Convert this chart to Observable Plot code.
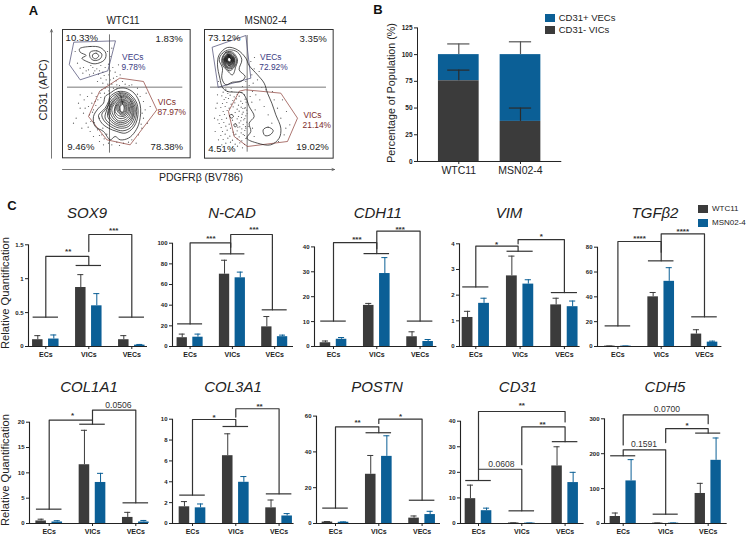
<!DOCTYPE html>
<html><head><meta charset="utf-8">
<script src="https://cdn.jsdelivr.net/npm/d3@7"></script>
<script src="https://cdn.jsdelivr.net/npm/@observablehq/plot@0.6"></script>
<style>
html,body{margin:0;padding:0;background:#fff}
#c{position:relative;width:747px;height:538px;overflow:hidden;font-family:"Liberation Sans",Arial,sans-serif;color:#222}
#c svg{position:absolute;max-width:none;overflow:visible}
.t{position:absolute;white-space:nowrap;transform:translate(-50%,-50%);line-height:1}
</style></head><body><div id="c"></div>
<script>
// ---------- data ----------
const GROUPS=["ECs","VICs","VECs"];
const LINES=["WTC11","MSN02-4"];
const DARK="#3b3b3b",BLUE="#0b5f96";

const SOX9_WT=[0.10,0.87,0.10],SOX9_WT_UP=[0.16,1.06,0.16],SOX9_MS=[0.11,0.60,0.02],SOX9_MS_UP=[0.17,0.78,0.03];
const SOX9_CAPS=[[0,0.433],[1,1.195],[2,0.433]];
const SOX9_BR=[[0,0.433,1.328,1,1.195],[1,1.40,1.652,2,0.433]];
const SOX9_LB=[["**",0.52,1.436],["***",1.58,1.736]];

const NCAD_WT=[8.5,70,19],NCAD_WT_UP=[12,83.5,29],NCAD_MS=[9,66.5,9.5],NCAD_MS_UP=[12,72,11];
const NCAD_CAPS=[[0,21.9],[1,89.7],[2,35.5]];
const NCAD_BR=[[0,21.9,100.3,0.96,89.7],[0.96,96,108.4,1.945,35.5]];
const NCAD_LB=[["***",0.49,107],["***",1.51,115.5]];

const CDH11_WT=[1.5,16.5,3.9],CDH11_WT_UP=[2.2,17.3,5.9],CDH11_MS=[2.9,29.3,2],CDH11_MS_UP=[3.6,35.7,2.8];
const CDH11_CAPS=[[0,10.2],[1,37.3],[2,10.2]];
const CDH11_BR=[[0,10.2,41.7,1,37.3],[1,39.3,46.3,2,10.2]];
const CDH11_LB=[["***",0.54,44],["***",1.54,48]];

const VIM_WT=[1.13,2.75,1.62],VIM_WT_UP=[1.37,3.52,1.88],VIM_MS=[1.68,2.43,1.55],VIM_MS_UP=[1.88,2.6,1.77];
const VIM_CAPS=[[0,2.32],[1,3.71],[2,2.10]];
const VIM_BR=[[0,2.32,3.91,0.955,3.71],[0.955,4,4.16,2,2.10]];
const VIM_LB=[["*",0.47,4.06],["*",1.48,4.38]];

const TGFB2_WT=[0.3,40,10],TGFB2_WT_UP=[0.4,43.5,13.5],TGFB2_MS=[0.3,52.5,3.5],TGFB2_MS_UP=[0.4,63.5,4.3];
const TGFB2_CAPS=[[0,16.6],[1,69],[2,23.9]];
const TGFB2_BR=[[0,16.6,84.6,1,69],[1,76,90.8,2,23.9]];
const TGFB2_LB=[["****",0.5,88.9],["****",1.5,94.5]];

const COL1A1_WT=[0.5,11.6,1.2],COL1A1_WT_UP=[0.85,18.4,2.2],COL1A1_MS=[0.3,8.1,0.3],COL1A1_MS_UP=[0.55,9.9,0.6];
const COL1A1_CAPS=[[0,2.83],[1,19.6],[2,4.08]];
const COL1A1_BR=[[0,2.83,20.4,1,19.6],[1,20.4,22.4,2,4.08]];
const COL1A1_LB=[["*",0.54,21.8],["0.0506",1.6,23.4]];

const COL3A1_WT=[1.6,6.5,1.5],COL3A1_WT_UP=[2.1,8.6,2.25],COL3A1_MS=[1.5,3.95,0.72],COL3A1_MS_UP=[1.87,4.5,0.95];
const COL3A1_CAPS=[[0,2.72],[1,9.3],[2,2.84]];
const COL3A1_BR=[[0,2.72,9.97,1,9.3],[1,10.2,11.0,2,2.84]];
const COL3A1_LB=[["*",0.5,10.4],["**",1.55,11.4]];

const POSTN_WT=[0.8,27.5,3],POSTN_WT_UP=[1.1,38,4.2],POSTN_MS=[0.7,37.5,5],POSTN_MS_UP=[0.9,49,6.8];
const POSTN_CAPS=[[0,8.6],[1,50.7],[2,13]];
const POSTN_BR=[[0,8.6,54,1,50.7],[1,55.9,58.3,2,13]];
const POSTN_LB=[["**",0.51,57.4],["*",1.5,61]];

const CD31_WT=[9.7,0.2,22.5],CD31_WT_UP=[15,0.25,30],CD31_MS=[5,0.15,16],CD31_MS_UP=[6,0.2,20];
const CD31_CAPS=[[0,16.8],[1,4.95],[2,32]];
const CD31_BR=[[0,16.8,21.2,1,4.95],[0,21.2,43.8,2,39.7],[1,23,37.8,2,32]];
const CD31_LB=[["**",1.0,46.8],["**",1.48,39.5],["0.0608",0.53,23.3]];

const CDH5_WT=[20,1,86],CDH5_WT_UP=[30,1.5,115],CDH5_MS=[122,1,181],CDH5_MS_UP=[183,1.5,245];
const CDH5_CAPS=[[0,194],[1,26.7],[2,259]];
const CDH5_BR=[[0,194,211,1,26.7],[0,225,311,2,286],[1,232,272,2,259]];
const CDH5_LB=[["0.0700",1.03,327],["*",1.5,287],["0.1591",0.49,227]];

// panel B
const B_VICS=[75.5,37.5],B_VICS_UP=[85.5,50],B_TOTAL=[100,100],B_TOTAL_UP=[110,112];

// panel A (arbitrary fluorescence units, y grows downward)
const WT_VEC_GATE=[[42,42],[166,38],[143,128],[60,155],[28,110]];
const WT_VIC_GATE=[[180,150],[250,160],[290,245],[210,350],[140,335],[85,265],[118,190]];
const WT_CONTOURS=[
[[150,195],[170,182],[195,180],[222,195],[240,230],[238,280],[225,310],[205,330],[180,335],[165,325],[150,335],[130,310],[105,295],[100,265],[115,240],[130,225],[135,205]],
[[150,205],[175,190],[205,195],[230,225],[232,270],[218,300],[195,315],[170,310],[145,300],[125,285],[115,262],[135,240],[145,220]],
[[152,210],[178,194],[205,200],[227,230],[227,270],[212,298],[188,308],[160,300],[132,278],[125,258],[140,240]],
[[155,215],[180,197],[205,205],[224,235],[222,270],[205,295],[180,300],[155,290],[135,270],[140,245]],
[[158,218],[181,201],[205,209],[221,238],[218,268],[202,290],[178,294],[155,282],[142,262]],
[[160,220],[182,205],[205,212],[218,240],[215,268],[198,285],[175,288],[155,275],[145,255]],
[[162,223],[183,208],[203,216],[215,240],[212,265],[197,280],[175,283],[157,268],[150,248]],
[[165,225],[183,212],[202,220],[212,240],[208,262],[195,275],[175,278],[160,262],[155,243]],
[[168,228],[184,215],[200,222],[208,240],[204,260],[191,270],[175,270],[163,256]],
[[170,230],[185,218],[198,225],[205,240],[200,258],[188,265],[175,262],[165,250]],
[[172,231],[186,220],[197,228],[201,242],[196,257],[185,261],[175,254],[170,245]],
[[175,232],[187,222],[196,232],[198,245],[192,256],[182,256],[174,245]],
[[178,234],[187,225],[194,236],[193,250],[185,254],[178,246]],
[[180,235],[188,228],[192,240],[188,252],[182,250]],
[[58,62],[90,55],[120,58],[137,75],[133,95],[105,107],[80,100],[65,90],[78,82],[60,72]],
[[90,72],[110,68],[125,78],[120,92],[102,97],[90,88]],
[[97,80],[108,75],[116,83],[106,92],[98,88]]
];
const WT_DOTS=[[45,70],[52,105],[60,120],[70,118],[85,125],[98,118],[110,122],[122,112],[135,118],[145,108],[150,85],[155,60],[142,70],[150,128],[128,132],[115,138],[100,135],[88,140],[78,128],[68,135],[92,112],[104,128],[118,128],[132,142],[146,140],[158,118],[165,132],[175,110],[170,145],[160,150],[150,155],[138,155],[122,150],[112,160],[128,165],[143,168],[155,168],[168,158],[180,140],[60,200],[72,215],[82,205],[95,195],[108,205],[120,195],[60,240],[70,255],[48,270],[85,235],[95,225],[105,220],[78,285],[65,300],[90,310],[100,325],[118,340],[125,320],[112,305],[92,280],[75,240],[55,225],[40,285],[88,260],[100,245],[130,350],[145,345],[155,350],[170,342],[190,345],[205,342],[215,335],[235,320],[245,300],[250,270],[255,245],[250,220],[240,205],[232,180],[215,170],[195,168],[178,172],[160,180],[135,180],[125,185],[258,195],[270,235],[262,285],[228,345],[178,352],[118,270],[128,300],[140,318],[113,215],[122,208],[97,252],[107,232],[84,297],[102,283],[118,322],[132,332],[148,327],[246,255],[243,288],[232,198],[207,172],[187,160],[170,170],[146,188],[133,195]];
const MS_VEC_GATE=[[30,57],[130,22],[145,150],[48,177]];
const MS_VIC_GATE=[[130,185],[235,195],[285,270],[255,340],[135,355],[95,325],[78,250],[110,190]];
const MS_CONTOURS=[
[[60,178],[75,190],[100,192],[120,195],[133,215],[140,235],[155,265],[140,285],[145,310],[133,330],[165,345],[205,350],[230,330],[235,300],[220,260],[208,225],[195,195],[185,165],[165,140],[140,112],[130,90],[105,65],[75,58],[50,80],[45,110],[52,150]],
[[50,95],[60,75],[80,65],[105,72],[118,95],[110,125],[128,145],[115,160],[90,162],[70,170],[58,150],[60,120]],
[[58,92],[70,72],[90,72],[105,95],[100,115],[90,140],[72,125],[60,110]],
[[60,92],[72,74],[90,76],[102,96],[96,116],[80,128],[64,110]],
[[63,92],[75,77],[90,80],[98,97],[92,118],[78,122],[65,108]],
[[65,92],[76,79],[90,83],[96,97],[90,116],[77,119],[67,107]],
[[66,92],[77,80],[90,85],[95,98],[88,114],[76,116],[68,105]],
[[67,92],[78,81],[90,87],[93,99],[85,113],[74,110],[69,104]],
[[68,92],[78,82],[90,88],[92,100],[82,112],[72,105]],
[[69,92],[79,83],[89,89],[91,100],[82,110],[73,104]],
[[70,92],[79,84],[89,90],[90,100],[82,108],[74,103]],
[[71,92],[80,85],[88,92],[88,100],[81,106],[75,102]],
[[72,92],[80,85],[88,95],[84,105],[75,102]],
[[73,92],[81,86],[87,95],[84,103],[75,101]],
[[74,92],[81,87],[87,95],[83,102],[76,100]],
[[75,92],[81,88],[86,95],[82,101],[77,99]],
[[182,305],[197,297],[212,307],[203,320],[187,322]],
[[81,262],[88,259],[93,265],[86,270]],
[[94,289],[100,287],[103,293],[97,296]]
];
const MS_DOTS=[[62,192],[76,196],[88,190],[104,199],[118,193],[58,203],[70,208],[83,201],[95,206],[110,204],[126,200],[65,214],[78,211],[91,217],[102,212],[115,219],[128,213],[60,226],[73,223],[86,228],[97,224],[108,231],[120,226],[131,222],[55,238],[68,235],[80,240],[92,236],[104,243],[116,237],[127,241],[62,250],[74,247],[98,253],[110,249],[122,252],[133,246],[52,262],[66,259],[108,265],[119,258],[130,263],[58,274],[72,270],[90,276],[104,272],[115,278],[127,271],[50,286],[64,283],[80,288],[110,284],[122,289],[133,282],[56,298],[70,294],[84,300],[106,297],[118,302],[129,295],[60,310],[74,306],[92,312],[104,308],[116,314],[127,307],[55,322],[68,318],[82,324],[95,320],[110,326],[122,319],[62,334],[76,330],[90,336],[104,332],[118,338],[130,331],[70,345],[84,342],[98,348],[112,344],[126,349],[90,357],[105,354],[120,359],[45,200],[40,240],[46,275],[38,310],[48,335],[58,350],[44,225],[36,270],[128,238],[124,275],[130,300],[126,322],[134,256],[137,295],[121,241],[117,268],[112,296],[100,318],[160,200],[172,215],[185,235],[197,260],[208,285],[225,240],[240,215],[252,250],[262,290],[245,320],[228,340],[215,215],[235,270],[250,300],[170,130],[155,122],[148,140],[165,155],[178,178],[152,165],[140,172],[130,160],[145,100],[156,88],[190,185],[210,190],[120,175],[70,183],[86,180],[48,160],[150,190],[143,205],[148,222],[158,245],[150,300],[155,325]];
const WT_TEXT=[["10.33%",65,30,"k"],["1.83%",327,33,"k"],["9.46%",62,355,"k"],["78.38%",320,355,"k"],["VECs",218,86,"v"],["9.78%",220,116,"v"],["VICs",320,222,"r"],["87.97%",335,252,"r"]];
const MS_TEXT=[["73.12%",65,30,"k"],["3.35%",332,33,"k"],["4.51%",58,362,"k"],["19.02%",330,355,"k"],["VECs",205,86,"v"],["72.92%",213,117,"v"],["VICs",330,261,"r"],["21.14%",343,292,"r"]];
const TEXT_COLORS={k:"#222",v:"#3b3b82",r:"#7d2c2c"};

// ---------- helpers ----------
const root=document.getElementById("c");
function put(svg,left,top){svg.style.left=left+"px";svg.style.top=top+"px";svg.style.background="transparent";root.appendChild(svg);}
function note(s,x,y,o={}){const d=document.createElement("div");d.className="t";d.textContent=s;
 d.style.left=x+"px";d.style.top=y+"px";d.style.fontSize=(o.size||10)+"px";
 if(o.bold)d.style.fontWeight="700";if(o.italic)d.style.fontStyle="italic";if(o.color)d.style.color=o.color;
 if(o.rot)d.style.transform="translate(-50%,-50%) rotate(-90deg)";
 if(o.left)d.style.transform="translateY(-50%)";root.appendChild(d);}
function swatch(x,y,w,h,c){const d=document.createElement("div");Object.assign(d.style,{position:"absolute",left:x+"px",top:y+"px",width:w+"px",height:h+"px",background:c});root.appendChild(d);}

function gene(g){
 const H=130,mL=22,mR=6,mB=20,W=g.right-g.left+mL+mR;
 const topV=g.max*H/(g.y0-g.yTop);
 const bw=0.122,off=0.186,capW=0.07,capHW=0.295;
 const rows=GROUPS.flatMap((_,i)=>[
  {x:i-off,v:g.wt[i],u:g.wtUp[i],c:DARK},{x:i+off,v:g.ms[i],u:g.msUp[i],c:BLUE}]);
 const br=g.br.map((b,k)=>[[b[0],b[1]],[b[0],b[2]],[b[3],b[2]],[b[3],b[4]]].map(p=>({k,x:p[0],y:p[1]}))).flat();
 const svg=Plot.plot({width:W,height:H+mB,marginLeft:mL,marginRight:mR,marginTop:0,marginBottom:mB,
  style:{background:"transparent",fontFamily:"Liberation Sans"},
  x:{domain:[(g.left-g.c0)/g.sp,(g.right-g.c0)/g.sp],axis:null},
  y:{domain:[0,topV],axis:null},
  marks:[
   Plot.rectY(rows,{x1:d=>d.x-bw,x2:d=>d.x+bw,y1:0,y2:"v",fill:"c"}),
   Plot.ruleX(rows,{x:"x",y1:"v",y2:"u",stroke:"c",strokeWidth:1}),
   Plot.ruleY(rows,{x1:d=>d.x-capW,x2:d=>d.x+capW,y:"u",stroke:"c",strokeWidth:1}),
   Plot.ruleY(g.caps,{x1:d=>d[0]-capHW,x2:d=>d[0]+capHW,y:d=>d[1],stroke:"#333",strokeWidth:1.2}),
   Plot.line(br,{x:"x",y:"y",z:"k",stroke:"#333",strokeWidth:1.2}),
   Plot.text(g.lb.filter(d=>d[0].includes("*")),{x:d=>d[1],y:d=>d[2],text:d=>d[0],fontSize:8,fontWeight:"bold",fill:"#333",dy:2,lineAnchor:"middle"}),
   Plot.text(g.lb.filter(d=>!d[0].includes("*")),{x:d=>d[1],y:d=>d[2],text:d=>d[0],fontSize:8.6,fill:"#333",lineAnchor:"middle"}),
   Plot.ruleX([g.domX],{y1:0,y2:g.max,stroke:"#222",strokeWidth:1.1}),
   Plot.ruleY([0],{x1:g.domX,x2:g.domXr,stroke:"#222",strokeWidth:1.1}),
   Plot.axisY({ticks:g.ticks,tickSize:3,tickPadding:2,fontSize:6,fontWeight:"bold",label:null,tickFormat:d=>String(d),fill:"#222",stroke:"#222"}),
   Plot.axisX({ticks:[0,1,2],tickSize:3,tickPadding:2.5,fontSize:7,fontWeight:"bold",label:null,tickFormat:i=>GROUPS[i],fill:"#222",stroke:"#222"})
  ]});
 put(svg,g.left-mL,g.y0-H);
}
function panel(name,id,left,right,c0,sp,y0,yTop,max,ticks,tx,ty){
 const pick=s=>eval(id+s);
 gene({left,right,c0,sp,y0,yTop,max,ticks,domX:(left-c0)/sp,domXr:(right-c0)/sp,
  wt:pick("_WT"),wtUp:pick("_WT_UP"),ms:pick("_MS"),msUp:pick("_MS_UP"),caps:pick("_CAPS"),br:pick("_BR"),lb:pick("_LB")});
 note(name,tx,ty,{size:15,italic:true,color:"#222"});
}
panel("SOX9","SOX9",28,147,45.3,43,346,244.3,1.5,[0,0.5,1,1.5],87,211.7);
panel("N-CAD","NCAD",171.7,292.7,189.3,42.3,346,242.7,100,[0,20,40,60,80,100],232,211.7);
panel("CDH11","CDH11",314.3,436.7,333.3,43.3,346.3,246.7,40,[0,10,20,30,40],377.7,211.7);
panel("VIM","VIM",458.7,579.3,475,44.3,346,243.3,4,[0,1,2,3,4],509,211.7);
panel("TGFβ2","TGFB2",597.3,721.7,617.7,43.3,346,246.7,80,[0,20,40,60,80],655,211.7);
panel("COL1A1","COL1A1",29.3,148.3,49,43.3,523.3,422,20,[0,5,10,15,20],89,385.7);
panel("COL3A1","COL3A1",171.7,293.3,191.7,43.3,523,418.7,10,[0,2,4,6,8,10],233,385.7);
panel("POSTN","POSTN",316,440,335,43.3,522.7,415.3,60,[0,20,40,60],377,385.7);
panel("CD31","CD31",459.7,583.3,477.7,43.3,523.3,421,40,[0,10,20,30,40],518,385.7);
panel("CDH5","CDH5",604,726.7,622.7,42.5,522.7,418,300,[0,100,200,300],665,385.7);

note("Relative Quantification",6,293,{size:11.2,rot:true});
note("Relative Quantification",6,470,{size:11.2,rot:true});
swatch(698,205,10,8,DARK);swatch(698,219,10,8,BLUE);
note(LINES[0],712,209,{size:8,left:true});note(LINES[1],712,223,{size:8,left:true});

// panel B
(function(){
 const left=416.7,right=561,y0=161.3,yTop=27.7,H=150,mL=24,mR=4,mB=20,c0=458,sp=61.7;
 const rows=LINES.map((n,i)=>({i,n,v:B_VICS[i],vu:B_VICS_UP[i],t:B_TOTAL[i],tu:B_TOTAL_UP[i]}));
 const bw=0.33,cap=0.18;
 const svg=Plot.plot({width:right-left+mL+mR,height:H+mB,marginLeft:mL,marginRight:mR,marginTop:0,marginBottom:mB,
  style:{background:"transparent",fontFamily:"Liberation Sans"},
  x:{domain:[(left-c0)/sp,(right-c0)/sp],axis:null},y:{domain:[0,125*H/(y0-yTop)],axis:null},
  marks:[
   Plot.rectY(rows,{x1:d=>d.i-bw,x2:d=>d.i+bw,y1:"v",y2:"t",fill:BLUE}),
   Plot.rectY(rows,{x1:d=>d.i-bw,x2:d=>d.i+bw,y1:0,y2:"v",fill:DARK}),
   Plot.ruleX(rows,{x:"i",y1:"t",y2:"tu",stroke:"#555",strokeWidth:1.2}),
   Plot.ruleY(rows,{x1:d=>d.i-cap,x2:d=>d.i+cap,y:"tu",stroke:"#555",strokeWidth:1.2}),
   Plot.ruleX(rows,{x:"i",y1:"v",y2:"vu",stroke:"#2b2b2b",strokeWidth:1.2}),
   Plot.ruleY(rows,{x1:d=>d.i-cap,x2:d=>d.i+cap,y:"vu",stroke:"#2b2b2b",strokeWidth:1.2}),
   Plot.ruleX([(left-c0)/sp],{y1:0,y2:125,stroke:"#222",strokeWidth:1}),
   Plot.ruleY([0],{stroke:"#222",strokeWidth:1}),
   Plot.axisY({ticks:[0,25,50,75,100,125],tickSize:3,tickPadding:2,fontSize:6.5,fontWeight:"bold",label:null,tickFormat:d=>String(d),fill:"#222"}),
   Plot.axisX({ticks:[0,1],tickSize:3,tickPadding:2.5,fontSize:10.5,label:null,tickFormat:i=>LINES[i],fill:"#222"})
  ]});
 put(svg,left-mL,y0-H);
})();
note("Percentage of Population (%)",391,93,{size:10.7,rot:true});
swatch(545,14,9.5,8,BLUE);swatch(545,25.5,9.5,8,DARK);
note("CD31+ VECs",558.7,18,{size:9.5,left:true});note("CD31- VICs",558.7,29.5,{size:9.5,left:true});

// panel A
function flow(vec,vic,cont,dots,txt,ox,oy,zl,zr,zt,zb,vx,hy,vy,hx){
 const m=1,w=(zr-zl)/3,h=(zb-zt)/3;
 const lines=cont.flatMap((l,k)=>l.map(p=>({k,x:p[0],y:p[1]})));
 const svg=Plot.plot({width:w+2*m,height:h+2*m,margin:m,
  style:{background:"transparent",fontFamily:"Liberation Sans"},
  x:{domain:[zl,zr],axis:null},y:{domain:[zb,zt],axis:null},
  marks:[
   Plot.frame({stroke:"#333",strokeWidth:1}),
   Plot.dot(dots,{x:d=>d[0],y:d=>d[1],r:0.6,fill:"#555",stroke:null}),
   Plot.ruleX([vx],{y1:vy[0],y2:vy[1],stroke:"#777",strokeWidth:1}),
   Plot.ruleY([hy],{x1:hx[0],x2:hx[1],stroke:"#777",strokeWidth:1}),
   Plot.line(vec,{x:d=>d[0],y:d=>d[1],curve:"linear-closed",stroke:"#45456e",strokeWidth:0.7}),
   Plot.line(vic,{x:d=>d[0],y:d=>d[1],curve:"linear-closed",stroke:"#8a3b34",strokeWidth:0.7}),
   Plot.line(lines,{x:"x",y:"y",z:"k",curve:"catmull-rom-closed",stroke:"#1c1c1c",strokeWidth:0.75}),
   Plot.text(txt,{x:d=>d[1],y:d=>d[2],text:d=>d[0],fill:d=>TEXT_COLORS[d[3]],fontSize:d=>d[3]==="k"?9.6:8.4})
  ]});
 put(svg,ox+zl/3-m,oy+zt/3-m);
}
flow(WT_VEC_GATE,WT_VIC_GATE,WT_CONTOURS,WT_DOTS,WT_TEXT,60,28,7,390,4,389,148,177,[20,375],[22,368]);
flow(MS_VEC_GATE,MS_VIC_GATE,MS_CONTOURS,MS_DOTS,MS_TEXT,202,28,6,392,4,390,134,177,[22,372],[24,372]);
note("WTC11",123,20.7,{size:10});note("MSN02-4",265.7,20.7,{size:10});
note("CD31 (APC)",43,90,{size:11,rot:true});note("PDGFRβ (BV786)",201,177,{size:10.5});
const AXIS_ARROWS=[{x1:51,y1:157.7,x2:51,y2:29},{x1:62,y1:169,x2:334,y2:169}];
put(Plot.plot({width:300,height:160,margin:0,style:{background:"transparent"},
 x:{domain:[40,340],axis:null},y:{domain:[180,20],axis:null},
 marks:[Plot.arrow(AXIS_ARROWS,{x1:"x1",y1:"y1",x2:"x2",y2:"y2",stroke:"#555",strokeWidth:0.8,headLength:5,headAngle:45,bend:0})]}),40,20);

note("A",33.5,10,{size:13,bold:true,color:"#111"});
note("B",378,9,{size:13,bold:true,color:"#111"});
note("C",12,205,{size:13,bold:true,color:"#111"});
</script></body></html>
